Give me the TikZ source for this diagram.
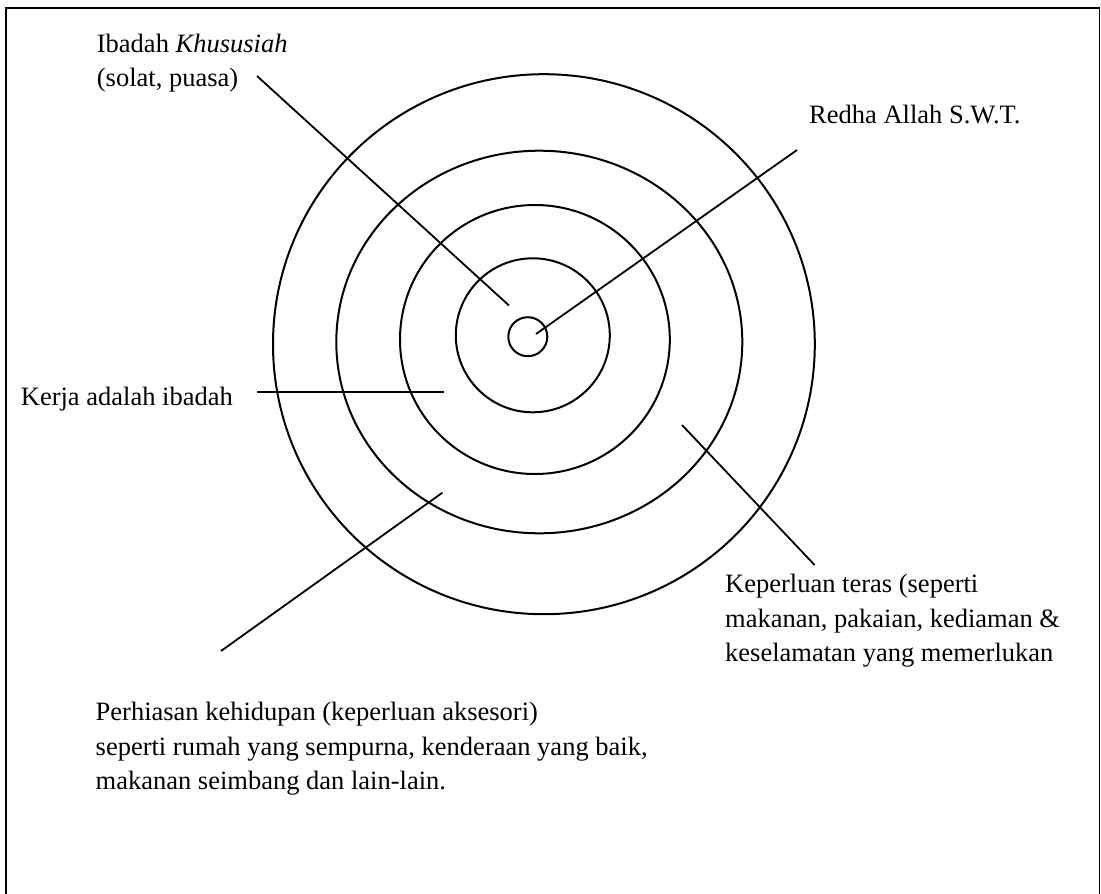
\documentclass[tikz,border=0pt]{standalone}
\usepackage{fontspec}
\setmainfont{Liberation Serif}
\begin{document}
\begin{tikzpicture}[x=1pt,y=-1pt,
  ring/.style={line width=2pt},
  leader/.style={line width=1.8pt},
  frameline/.style={line width=1.6pt},
  lbl/.style={anchor=base west, inner sep=0pt, font=\fontsize{26.5}{34.7}\selectfont}]
\useasboundingbox (0,0) rectangle (1101,894);
% frame
\draw[frameline] (6,905) -- (6,8) -- (1099.5,8) -- (1099.5,905);
% rings
\draw[ring] (527.8,336.7) circle [radius=19.5pt];
\draw[ring] (532.8,335.3) circle [radius=77pt];
\draw[ring] (534.9,339.5) ellipse [x radius=134.9pt, y radius=134.5pt];
\draw[ring] (539.3,342.0) ellipse [x radius=203pt, y radius=191.3pt];
\draw[ring] (543.9,344.2) ellipse [x radius=270.9pt, y radius=270pt];
% labels
\node[lbl] (ibadah) at (96.7,52.3) {\begin{tabular}[t]{@{}l@{}}Ibadah \textit{Khususiah}\\(solat, puasa)\end{tabular}};
\node[lbl] (redha) at (809,123.3) {Redha Allah S.W.T.};
\node[lbl] (kerja) at (20.7,405) {Kerja adalah ibadah};
\node[lbl] (keperluan) at (725,592.3) {\begin{tabular}[t]{@{}l@{}}Keperluan teras (seperti\\makanan, pakaian, kediaman \&\\keselamatan yang memerlukan\end{tabular}};
\node[lbl] (perhiasan) at (95.5,720.3) {\begin{tabular}[t]{@{}l@{}}Perhiasan kehidupan (keperluan aksesori)\\seperti rumah yang sempurna, kenderaan yang baik,\\makanan seimbang dan lain-lain.\end{tabular}};
% leader end points
\coordinate (ibadahS) at (257,76);
\coordinate (ibadahE) at (509,305.5);
\coordinate (redhaS) at (797,150);
\coordinate (redhaE) at (536,334);
\coordinate (kerjaS) at (257,391.7);
\coordinate (kerjaE) at (444,391.7);
\coordinate (perhiasanS) at (221,651);
\coordinate (perhiasanE) at (442.4,492.7);
\coordinate (keperluanS) at (814.6,565);
\coordinate (keperluanE) at (682,425);
% leaders
\draw[leader] (ibadahS) -- (ibadahE);
\draw[leader] (redhaS) -- (redhaE);
\draw[leader] (kerjaS) -- (kerjaE);
\draw[leader] (perhiasanS) -- (perhiasanE);
\draw[leader] (keperluanS) -- (keperluanE);
\end{tikzpicture}
\end{document}
